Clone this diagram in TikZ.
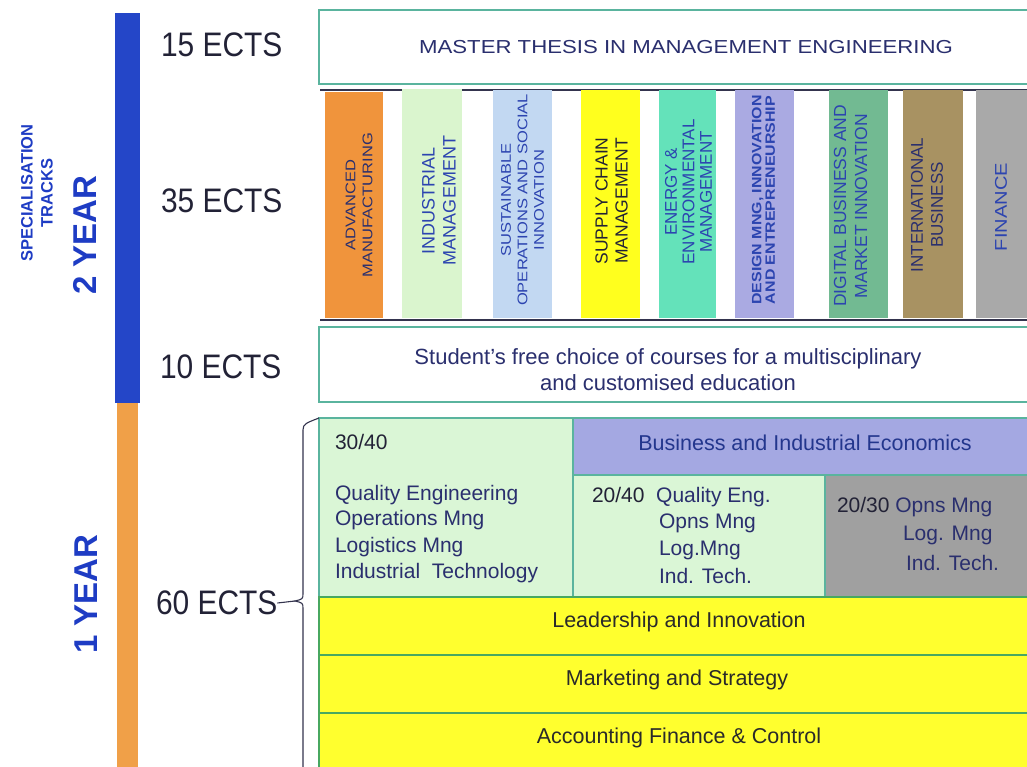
\documentclass[tikz,border=0pt]{standalone}
\usepackage{fontspec}
\setmainfont{Liberation Sans}
\newfontfamily\widefont[FakeStretch=1.18]{Liberation Sans}
\newfontfamily\narrowfont[FakeStretch=0.88]{Liberation Sans}
\newcommand\fsz[2]{\fontsize{#1}{#2}\selectfont}

\definecolor{barblue}{HTML}{2446C8}
\definecolor{barorange}{HTML}{F0A048}
\definecolor{yearblue}{HTML}{1E3CC4}
\definecolor{edge}{HTML}{5AB49E}
\definecolor{rowedge}{HTML}{48A860}
\definecolor{rail}{HTML}{34344E}
\definecolor{ink}{HTML}{2A2F6E}
\definecolor{inkblue}{HTML}{2C44B0}
\definecolor{darkink}{HTML}{222236}
\definecolor{greyink}{HTML}{2A2A2A}
\definecolor{cAdv}{HTML}{F0943C}
\definecolor{cInd}{HTML}{DAF5CE}
\definecolor{cSus}{HTML}{C2D8F2}
\definecolor{cSup}{HTML}{FFFF1E}
\definecolor{cEne}{HTML}{64E2BA}
\definecolor{cDes}{HTML}{AAAAE2}
\definecolor{cDig}{HTML}{72BA92}
\definecolor{cInt}{HTML}{A89262}
\definecolor{cFin}{HTML}{A9A9A9}
\definecolor{paleGreen}{HTML}{DAF6D6}
\definecolor{lavender}{HTML}{A4A8E2}
\definecolor{midgrey}{HTML}{A0A0A0}
\definecolor{rowyellow}{HTML}{FFFF2E}

\begin{document}
\begin{tikzpicture}[x=1pt,y=-1pt,
  every node/.style={inner sep=0pt, outer sep=0pt},
  frame/.style={draw=edge, line width=1.4pt, anchor=north west},
  bar/.style={anchor=north west},
  track/.style={anchor=north west},
  tracktext/.style={rotate=90, align=center},
  yearlabel/.style={rotate=90, text=yearblue, font=\bfseries\fsz{33}{36}},
  ects/.style={anchor=west, text=darkink, font=\narrowfont\fsz{34}{38}},
  row/.style={frame, draw=rowedge, fill=rowyellow, minimum width=716},
  rowtext/.style={text=greyink, font=\fsz{21.5}{25}},
  celltext/.style={anchor=west, text=ink, font=\fsz{21}{25}},
  railline/.style={draw=rail, line width=1.3pt},
  bracket/.style={draw=rail, line width=1.1pt}
]
\useasboundingbox (0,0) rectangle (1027,767);
\clip (0,0) rectangle (1027,767);
\fill[white] (0,0) rectangle (1027,767);

% year bars
\node[bar, fill=barblue, minimum width=25, minimum height=390] (bar2) at (115,13) {};
\node[bar, fill=barorange, minimum width=21, minimum height=370] (bar1) at (117,403) {};

% year labels
\node[tracktext, text=yearblue, font=\bfseries\fsz{16.5}{20}] (spec) at (37,193) {SPECIALISATION\\TRACKS};
\node[yearlabel] (y2) at (85,235) {2 YEAR};
\node[yearlabel] (y1) at (86,594) {1 YEAR};

% credit labels
\node[ects] (e15) at (161,45) {15 ECTS};
\node[ects] (e35) at (161,201) {35 ECTS};
\node[ects] (e10) at (160,367) {10 ECTS};
\node[ects] (e60) at (156,603) {60 ECTS};

% master thesis
\node[frame, fill=white, minimum width=716, minimum height=74] (thesis) at (319,10) {};
\node[text=ink, font=\widefont\fsz{18.8}{22}] (thesisT) at (686,47) {MASTER THESIS IN MANAGEMENT ENGINEERING};

% specialisation tracks (shifts are in page points: positive yshift moves up)
\draw[railline] (320,90) -- (1030,90);
\draw[railline] (320,320) -- (1030,320);
\node[track, fill=cAdv, minimum width=58, minimum height=226] (adv) at (325,92) {};
\node[track, fill=cInd, minimum width=60, minimum height=229] (ind) at (402,89) {};
\node[track, fill=cSus, minimum width=59, minimum height=228] (sus) at (493,90) {};
\node[track, fill=cSup, minimum width=59, minimum height=228] (sup) at (581,90) {};
\node[track, fill=cEne, minimum width=57, minimum height=228] (ene) at (659,90) {};
\node[track, fill=cDes, minimum width=59, minimum height=228] (des) at (735,90) {};
\node[track, fill=cDig, minimum width=59, minimum height=228] (dig) at (829,90) {};
\node[track, fill=cInt, minimum width=60, minimum height=228] (int) at (903,90) {};
\node[track, fill=cFin, minimum width=60, minimum height=228] (fin) at (976,90) {};

\node[tracktext, text=ink, font=\widefont\fsz{14}{17}] (advT) at ([xshift=5]adv.center) {ADVANCED\\MANUFACTURING};
\node[tracktext, text=inkblue, font=\fsz{18}{21}] (indT) at ([xshift=7,yshift=3]ind.center) {INDUSTRIAL\\MANAGEMENT};
\node[tracktext, text=inkblue, font=\widefont\fsz{14}{16.5}] (susT) at ([yshift=4]sus.center) {SUSTAINABLE\\OPERATIONS AND SOCIAL\\INNOVATION};
\node[tracktext, text=darkink, font=\fsz{17.5}{20}] (supT) at ([xshift=1,yshift=3]sup.center) {SUPPLY CHAIN\\MANAGEMENT};
\node[tracktext, text=inkblue, font=\fsz{17}{17.5}] (eneT) at ([xshift=1,yshift=12]ene.center) {ENERGY \&\\ENVIRONMENTAL\\MANAGEMENT};
\node[tracktext, text=inkblue, font=\bfseries\widefont\fsz{13.5}{13.5}] (desT) at ([xshift=-1,yshift=4]des.center) {DESIGN MNG, INNOVATION\\AND ENTREPRENEURSHIP};
\node[tracktext, text=inkblue, font=\fsz{17.5}{21}] (digT) at ([xshift=-8,yshift=-2]dig.center) {DIGITAL BUSINESS AND\\MARKET INNOVATION};
\node[tracktext, text=ink, font=\fsz{17}{20}] (intT) at ([xshift=-6,yshift=-1]int.center) {INTERNATIONAL\\BUSINESS};
\node[tracktext, text=inkblue, font=\widefont\fsz{17}{20}] (finT) at ([xshift=-5,yshift=-3]fin.center) {FINANCE};

% free choice
\node[frame, fill=white, minimum width=716, minimum height=75] (free) at (319,327) {};
\node[align=center, text=ink, font=\fsz{22}{26}] (freeT) at (668,370) {Student's free choice of courses for a multisciplinary\\and customised education};

% first year
\node[frame, fill=paleGreen, minimum width=254, minimum height=179] (g3040) at (319,418) {};
\node[frame, fill=lavender, minimum width=460, minimum height=57] (bie) at (573,418) {};
\node[frame, fill=paleGreen, minimum width=252, minimum height=122] (g2040) at (573,475) {};
\node[frame, fill=midgrey, minimum width=210, minimum height=122] (g2030) at (825,475) {};

\node[row, minimum height=58] (lead) at (319,597) {};
\node[row, minimum height=58] (mkt) at (319,655) {};
\node[row, minimum height=62] (acc) at (319,713) {};

\node[celltext, text=darkink] (n3040) at (335,442) {30/40};
\node[celltext] (qe) at (335,495) {Quality Engineering};
\node[celltext] (om) at (335,520) {Operations Mng};
\node[celltext] (lm) at (335,547) {Logistics Mng};
\node[celltext] (it) at (335,573) {Industrial\ \ Technology};

\node[text=inkblue!80!black, font=\fsz{21.5}{25}] (bieT) at (805,443) {Business and Industrial Economics};

\node[celltext] (n2040) at (592,497) {{\color{darkink}20/40}\ \ Quality Eng.};
\node[celltext] (om2) at (659,523) {Opns Mng};
\node[celltext] (lm2) at (659,550) {Log.Mng};
\node[celltext] (it2) at (659,576) {Ind. Tech.};

\node[celltext] (n2030) at (837,507) {{\color{darkink}20/30} Opns Mng};
\node[celltext] (lm3) at (903,535) {Log. Mng};
\node[celltext] (it3) at (906,563) {Ind. Tech.};

\node[rowtext] (leadT) at (679,622) {Leadership and Innovation};
\node[rowtext] (mktT) at (677,680) {Marketing and Strategy};
\node[rowtext] (accT) at (679,738) {Accounting Finance \& Control};

% brace grouping the first-year courses
\coordinate (tip) at (295,601);
\draw[bracket] (g3040.north west) .. controls (306,423) and (303,424) .. (303,430)
  -- (303,593) .. controls (303,599) .. (tip) .. controls (303,603) .. (303,609) -- (303,772);
\draw[bracket] (e60.east) -- (tip);
\end{tikzpicture}
\end{document}
